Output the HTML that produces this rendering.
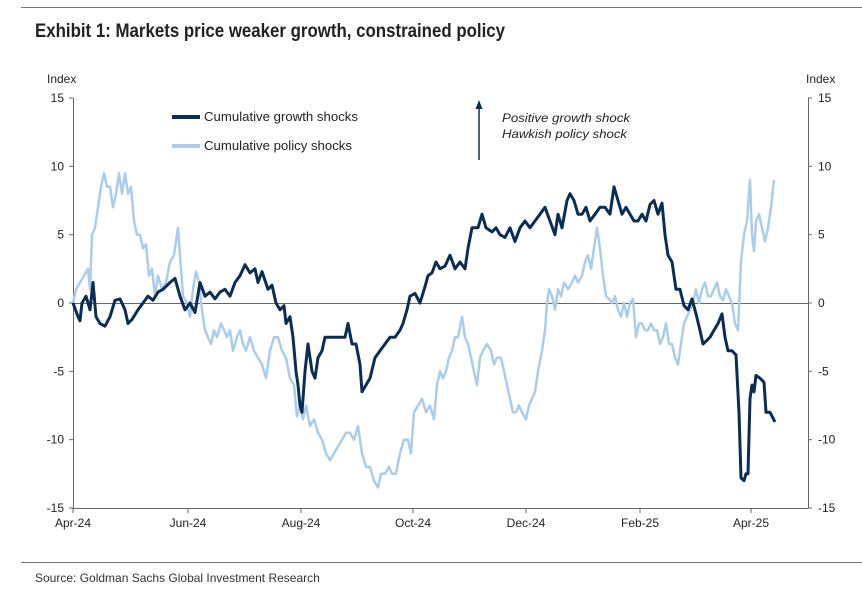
<!DOCTYPE html>
<html><head><meta charset="utf-8"><style>
body{margin:0;background:#fff;width:862px;height:592px;overflow:hidden;font-family:"Liberation Sans Narrow","Liberation Sans",sans-serif}
</style></head><body>
<svg id="s" width="862" height="592" viewBox="0 0 862 592" xmlns="http://www.w3.org/2000/svg" font-family="Liberation Sans Narrow, Liberation Sans, sans-serif">
<line x1="21" y1="7.5" x2="862" y2="7.5" stroke="#777" stroke-width="1"/>
<text x="35" y="37" font-size="19" font-weight="bold" fill="#222" textLength="470" lengthAdjust="spacingAndGlyphs">Exhibit 1: Markets price weaker growth, constrained policy</text>
<text x="47" y="83" font-size="12" fill="#222">Index</text>
<text x="806" y="83" font-size="12" fill="#222">Index</text>
<line x1="73.5" y1="98" x2="73.5" y2="508" stroke="#666"/>
<line x1="808.5" y1="98" x2="808.5" y2="508" stroke="#666"/>
<line x1="73" y1="508.5" x2="808" y2="508.5" stroke="#666"/>
<line x1="73" y1="303.5" x2="808" y2="303.5" stroke="#666"/>
<g id="ticks" font-size="12" fill="#222"></g>
<line x1="172" y1="117" x2="200" y2="117" stroke="#0b2d55" stroke-width="4"/>
<text x="204" y="121" font-size="13" fill="#222" textLength="154" lengthAdjust="spacingAndGlyphs">Cumulative growth shocks</text>
<line x1="172" y1="146" x2="200" y2="146" stroke="#a9cdeb" stroke-width="4"/>
<text x="204" y="150" font-size="13" fill="#222" textLength="148" lengthAdjust="spacingAndGlyphs">Cumulative policy shocks</text>
<line x1="479" y1="108" x2="479" y2="160" stroke="#0b2d55" stroke-width="1.5"/>
<polygon points="479,100 475.5,109 482.5,109" fill="#0b2d55"/>
<text x="502" y="122" font-size="12" font-style="italic" fill="#222" textLength="128" lengthAdjust="spacingAndGlyphs">Positive growth shock</text>
<text x="502" y="138" font-size="12" font-style="italic" fill="#222" textLength="125" lengthAdjust="spacingAndGlyphs">Hawkish policy shock</text>
<path id="pol" fill="none" stroke="#a9cdeb" stroke-width="2.5" stroke-linejoin="round"/>
<path id="gro" fill="none" stroke="#0b2d55" stroke-width="3" stroke-linejoin="round"/>
<line x1="21" y1="562.5" x2="862" y2="562.5" stroke="#777" stroke-width="1"/>
<text x="35" y="582" font-size="12" fill="#333">Source: Goldman Sachs Global Investment Research</text>
</svg>
<script>
var Y=function(v){return 303-v*410/30;};
var g=document.getElementById('ticks'),h='';
[15,10,5,0,-5,-10,-15].forEach(function(v){var y=Y(v);
h+='<line x1="69" y1="'+y+'" x2="73" y2="'+y+'" stroke="#666"/><line x1="808" y1="'+y+'" x2="812" y2="'+y+'" stroke="#666"/>';
h+='<text x="64" y="'+(y+4)+'" text-anchor="end">'+v+'</text><text x="818" y="'+(y+4)+'">'+v+'</text>';});
[[73,'Apr-24'],[188,'Jun-24'],[301,'Aug-24'],[413,'Oct-24'],[526,'Dec-24'],[640,'Feb-25'],[751,'Apr-25']].forEach(function(t){
h+='<line x1="'+t[0]+'" y1="508" x2="'+t[0]+'" y2="513" stroke="#666"/><text x="'+t[0]+'" y="527" text-anchor="middle">'+t[1]+'</text>';});
g.innerHTML=h;
function P(a){var d='';for(var i=0;i<a.length;i+=2){d+=(i?'L':'M')+a[i]+' '+Y(a[i+1]).toFixed(1);}return d;}
var G=[73,0,78,-1,80,-1.3,82,0,86,0.5,90,-0.5,93,1.5,96,-1,100,-1.5,105,-1.7,110,-1,115,0.2,120,0.3,125,-0.5,128,-1.5,132,-1.2,138,-0.5,143,0,148,0.5,153,0.2,158,0.8,163,1,170,1.5,175,1.8,180,0.5,185,-0.5,190,0,195,-0.7,200,1.5,205,0.5,210,0.8,215,0.3,220,0.8,225,1,230,0.5,235,1.5,240,2,245,2.8,250,2.2,255,2.5,258,1.5,262,2.3,268,1,272,1.3,276,0,280,-0.5,284,-0.2,286,-1.5,290,-1,293,-2.5,296,-5,298,-6,300,-7.5,302,-8,305,-5,308,-3,312,-5,315,-5.5,318,-4,322,-3.5,325,-2.5,330,-2.5,335,-2.5,340,-2.5,345,-2.5,348,-1.5,352,-3,356,-3,360,-4.5,362,-6.5,366,-6,370,-5.5,375,-4,380,-3.5,385,-3,390,-2.5,395,-2.5,400,-2,403,-1.5,407,-0.5,410,0.5,415,0.7,420,0,425,1.2,428,2,432,2.2,436,3,440,2.5,445,2.7,450,3.5,455,2.5,460,3,465,2.5,468,4,472,5.5,478,5.5,482,6.5,486,5.5,492,5.2,496,5.5,500,5,505,4.8,510,5.5,515,4.5,520,5.5,525,6,530,5.5,535,6,540,6.5,545,7,550,6,555,5,558,6.5,562,5.5,567,7.5,570,8,574,7.5,578,6.5,582,6.5,586,7,590,6,595,6.5,600,7,605,7,610,6.5,614,8.5,618,7.5,622,6.5,626,7,630,6.5,634,6,638,6,642,6.5,646,6,650,7.2,654,7.5,658,6.5,662,7.3,665,5,668,3.5,672,3,676,1,680,1,684,-0.2,688,-0.5,692,0.3,696,-0.8,700,-2,703,-3,706,-2.8,710,-2.5,714,-2,718,-1.5,722,-0.8,725,-2.5,728,-3.5,732,-3.5,736,-3.8,739,-8,741,-12.8,744,-13,746,-12.5,748,-12.5,750,-7,752,-6,754,-6.5,756,-5.3,760,-5.5,764,-5.8,766,-8,770,-8,775,-8.7];
var L=[73,0,76,1,80,1.5,84,2,88,2.5,90,1,92,5,95,5.5,98,7,101,8.5,104,9.5,107,8.5,110,8.5,113,7,116,8,119,9.5,122,8,125,9.5,128,8,131,8.5,134,6,137,5,140,5,143,4,146,4.3,149,2,152,2.5,155,0.5,158,2,162,1,166,1.5,170,3,174,3.5,178,5.5,180,3.5,183,0.5,187,0,190,-1,193,1,196,2.3,199,1.5,202,-0.5,205,-2,208,-2.5,211,-3,214,-2,217,-2.5,221,-1.5,224,-2,227,-2.5,230,-2,233,-3.5,237,-2.5,240,-2,243,-3,246,-3.5,250,-2.5,254,-3.5,258,-4,262,-4.5,266,-5.5,270,-3.5,274,-2.5,278,-2.5,282,-3.5,286,-4,290,-5.5,294,-6,297,-8.3,300,-7.5,303,-8.5,306,-7.5,310,-9,314,-8.5,318,-9.5,322,-10,326,-11,330,-11.5,334,-11,338,-10.5,342,-10,346,-9.5,350,-9.5,354,-10,358,-9,362,-11,366,-12,370,-12,374,-13,378,-13.5,381,-12.5,385,-12.5,389,-12,392,-12.5,396,-12.5,400,-11,404,-10,408,-10,411,-11,414,-8,418,-7.5,422,-7,426,-8,430,-7.5,434,-8.5,437,-6,440,-5,443,-5.5,446,-5,449,-4,452,-3.5,455,-2.5,458,-2.5,462,-1,465,-2.5,468,-3,471,-4,474,-5,477,-6,480,-4,483,-3.5,487,-3,491,-3.5,494,-4.5,497,-4,501,-4,504,-5,507,-6,510,-7,513,-8,516,-8,519,-7.5,522,-8,526,-8.5,529,-7.5,532,-7,535,-6.5,538,-5,542,-3.5,545,-2,547,0,549,1,552,0.5,555,-0.5,558,1,561,0.5,564,1.5,568,1,572,1.5,575,2,578,1.5,582,2,585,3,588,3.5,591,2.5,594,4,597,5.5,600,4,603,2,606,0.5,609,0.3,612,0,615,0.5,618,-0.5,621,-1,624,0,627,-1,630,0,633,0.3,636,-2.5,639,-1.5,642,-1.5,645,-2,648,-2,651,-1.5,654,-2,657,-2,660,-3,663,-2.5,666,-1.5,669,-3,672,-3,675,-4,678,-4.5,681,-3,684,-1.5,687,-1,690,-0.5,693,0,696,1,699,0,702,1,705,1.5,708,0.5,711,0.5,714,1,717,1.5,720,0.5,723,0.2,726,1,729,0.5,732,0,735,-1.5,738,-2,741,3,744,5,747,6,750,9,752,5,754,3.8,756,6,759,6.5,762,5.5,765,4.5,768,5.5,771,7,774,9];
document.getElementById('gro').setAttribute('d',P(G));
document.getElementById('pol').setAttribute('d',P(L));
</script>
</body></html>
